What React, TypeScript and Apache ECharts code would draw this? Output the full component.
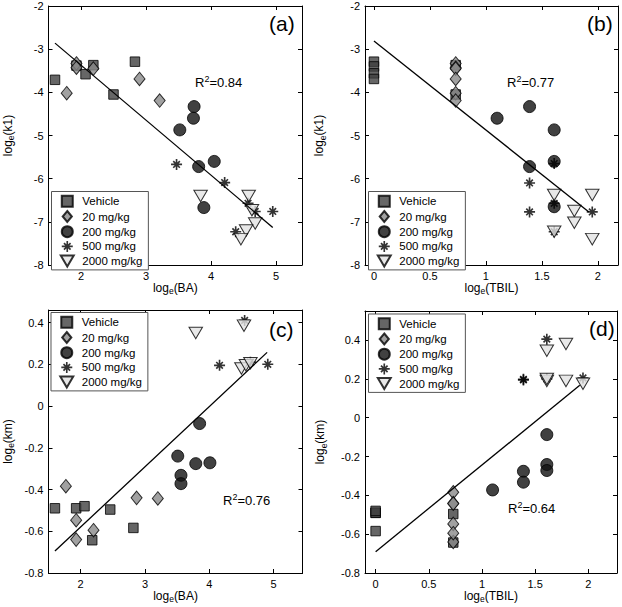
import React, { useEffect, useRef } from 'react';
import * as echarts from 'echarts';

const FONT = '"Liberation Sans", Arial, Helvetica, sans-serif';

const GROUPS = ['Vehicle', '20 mg/kg', '200 mg/kg', '500 mg/kg', '2000 mg/kg'];

// ---- Panel (a): log_e(BA) vs log_e(k1)
const aVehicle = [[1.60, -3.71], [1.93, -3.38], [2.07, -3.58], [2.19, -3.37], [2.50, -4.05], [2.83, -3.29]];
const a20 = [[1.78, -4.02], [1.93, -3.33], [1.93, -3.43], [2.19, -3.45], [2.90, -3.69], [3.21, -4.19]];
const a200 = [[3.52, -4.87], [3.74, -4.33], [3.73, -4.60], [3.81, -5.72], [4.05, -5.60], [3.89, -6.67]];
const a500 = [[3.47, -5.67], [4.21, -6.09], [4.57, -6.57], [4.68, -6.76], [4.95, -6.76], [4.38, -7.23]];
const a2000 = [[3.84, -6.40], [4.58, -6.40], [4.63, -6.73], [4.68, -7.04], [4.54, -7.20], [4.46, -7.40]];
const aFit = [[1.60, -2.86], [4.95, -7.13]];

// ---- Panel (b): log_e(TBIL) vs log_e(k1)
const bVehicle = [[0, -3.29], [0, -3.40], [0, -3.56], [0, -3.69], [0.73, -3.37], [0.73, -4.05]];
const b20 = [[0.73, -3.33], [0.73, -3.43], [0.73, -3.45], [0.73, -3.69], [0.73, -4.02], [0.73, -4.19]];
const b200 = [[1.10, -4.60], [1.39, -4.33], [1.61, -4.87], [1.61, -5.60], [1.39, -5.72], [1.61, -6.65]];
const b500 = [[1.61, -5.65], [1.39, -6.10], [1.39, -6.77], [1.95, -6.77], [1.61, -6.57], [1.61, -7.23]];
const b2000 = [[1.61, -6.38], [1.95, -6.38], [1.79, -6.75], [1.79, -7.02], [1.61, -7.23], [1.95, -7.40]];
const bFit = [[0, -2.81], [1.92, -6.77]];

// ---- Panel (c): log_e(BA) vs log_e(km)
const cVehicle = [[1.60, -0.49], [1.93, -0.49], [2.06, -0.48], [2.18, -0.643], [2.46, -0.496], [2.82, -0.584]];
const c20 = [[1.77, -0.384], [1.93, -0.547], [1.93, -0.64], [2.20, -0.595], [2.87, -0.44], [3.20, -0.443]];
const c200 = [[3.51, -0.24], [3.56, -0.332], [3.56, -0.372], [3.79, -0.276], [4.01, -0.272], [3.85, -0.084]];
const c500 = [[4.16, 0.195], [4.55, 0.41], [4.91, 0.2], [4.64, 0.21]];
const c2000 = [[3.79, 0.35], [4.54, 0.385], [4.50, 0.18], [4.57, 0.195], [4.64, 0.205]];
const cFit = [[1.60, -0.695], [4.90, 0.257]];

// ---- Panel (d): log_e(TBIL) vs log_e(km)
const dVehicle = [[0, -0.49], [0, -0.49], [0, -0.48], [0, -0.584], [0.73, -0.643], [0.73, -0.496]];
const d20 = [[0.73, -0.384], [0.73, -0.547], [0.73, -0.64], [0.73, -0.595], [0.73, -0.44], [0.73, -0.443]];
const d200 = [[1.10, -0.372], [1.39, -0.276], [1.39, -0.332], [1.61, -0.087], [1.61, -0.241], [1.61, -0.272]];
const d500 = [[1.39, 0.195], [1.39, 0.198], [1.61, 0.405], [1.95, 0.205], [1.61, 0.2]];
const d2000 = [[1.61, 0.345], [1.79, 0.38], [1.61, 0.19], [1.79, 0.19], [1.95, 0.175], [1.61, 0.2]];
const dFit = [[0, -0.69], [1.92, 0.167]];

// ---- tick values
const baTicks = [2, 3, 4, 5];
const tbilTicks = [0, 0.5, 1, 1.5, 2];
const k1Ticks = [-8, -7, -6, -5, -4, -3, -2];
const kmTicks = [-0.8, -0.6, -0.4, -0.2, 0, 0.2, 0.4];

const R2 = ['0.84', '0.77', '0.76', '0.64'];
const LABELS = ['(a)', '(b)', '(c)', '(d)'];

const ASTERISK =
  'path://M8.5,0L11.5,0L11.5,20L8.5,20Z M0,8.5L20,8.5L20,11.5L0,11.5Z M14.95,2.93L17.07,5.05L5.05,17.07L2.93,14.95Z M2.93,5.05L5.05,2.93L17.07,14.95L14.95,17.07Z';
const TRI_DOWN = 'path://M0,0L20,0L10,17Z';
const DIAMOND = 'path://M5,0L10,6L5,12L0,6Z';
const SQUARE = 'path://M0,0L10,0L10,10L0,10Z';

const STYLES: any[] = [
  { symbol: SQUARE, symbolSize: 9.5, itemStyle: { color: '#404040', borderColor: '#000', borderWidth: 1 } },
  { symbol: DIAMOND, symbolSize: [11, 13.5], itemStyle: { color: '#8a8a8a', borderColor: '#000', borderWidth: 1 } },
  { symbol: 'circle', symbolSize: 12, itemStyle: { color: '#111', borderColor: '#000', borderWidth: 1 } },
  { symbol: ASTERISK, symbolSize: 11, itemStyle: { color: '#000' } },
  { symbol: TRI_DOWN, symbolSize: [13.5, 11.5], itemStyle: { color: '#e2e2e2', borderColor: '#000', borderWidth: 1 } },
];

const PANELS = [
  {
    grid: { left: 48.5, top: 6, width: 253.5, height: 259 },
    x: [1.5, 5.4], y: [-8, -2], xt: baTicks, yt: k1Ticks, xn: 'BA', yn: 'k1', yGap: 33,
    groups: [aVehicle, a20, a200, a500, a2000], fit: aFit,
    legend: { left: 51.5, top: 191.5 }, r2: [195, 82], lab: [269, 23],
  },
  {
    grid: { left: 365, top: 6, width: 253, height: 259 },
    x: [-0.08, 2.18], y: [-8, -2], xt: tbilTicks, yt: k1Ticks, xn: 'TBIL', yn: 'k1', yGap: 38,
    groups: [bVehicle, b20, b200, b500, b2000], fit: bFit,
    legend: { left: 368.5, top: 191.5 }, r2: [507, 82], lab: [587, 23],
  },
  {
    grid: { left: 48.5, top: 310, width: 254, height: 263 },
    x: [1.5, 5.45], y: [-0.8, 0.46], xt: baTicks, yt: kmTicks, xn: 'BA', yn: 'km', yGap: 33,
    groups: [cVehicle, c20, c200, c500, c2000], fit: cFit,
    legend: { left: 51, top: 312.5 }, r2: [223, 500], lab: [269, 329],
  },
  {
    grid: { left: 365, top: 311, width: 252, height: 262 },
    x: [-0.1, 2.27], y: [-0.8, 0.55], xt: tbilTicks, yt: kmTicks, xn: 'TBIL', yn: 'km', yGap: 37,
    groups: [dVehicle, d20, d200, d500, d2000], fit: dFit,
    legend: { left: 368.5, top: 314 }, r2: [508, 508], lab: [589, 328],
  },
];

const nameRich = {
  n: { fontSize: 12, fontFamily: FONT, color: '#000', lineHeight: 16 },
  s: { fontSize: 8.5, fontFamily: FONT, color: '#000', lineHeight: 8, verticalAlign: 'bottom' },
};

function axisCommon(min: number, max: number, ticks: number[], showLabel: boolean) {
  return {
    type: 'value',
    min,
    max,
    axisLine: { show: true, onZero: false, lineStyle: { color: '#000', width: 1 } },
    axisTick: { show: true, inside: true, length: 4, customValues: ticks, lineStyle: { color: '#000', width: 1 } },
    axisLabel: showLabel
      ? { show: true, customValues: ticks, margin: 5, color: '#000', fontSize: 11, fontFamily: FONT }
      : { show: false },
    splitLine: { show: false },
  };
}

export default function App() {
  const ref = useRef<HTMLDivElement>(null);
  useEffect(() => {
    if (!ref.current) return;
    const chart = echarts.init(ref.current, null, { renderer: 'svg' });
    const grid: any[] = [];
    const xAxis: any[] = [];
    const yAxis: any[] = [];
    const series: any[] = [];
    const legend: any[] = [];
    const graphic: any[] = [];
    PANELS.forEach((p, i) => {
      grid.push({ ...p.grid, containLabel: false });
      xAxis.push({
        ...axisCommon(p.x[0], p.x[1], p.xt, true),
        gridIndex: i,
        position: 'bottom',
        name: `{n|log}{s|e}{n|(${p.xn})}`,
        nameLocation: 'middle',
        nameGap: 13,
        nameTextStyle: { rich: nameRich },
      });
      xAxis.push({ ...axisCommon(p.x[0], p.x[1], p.xt, false), gridIndex: i, position: 'top' });
      yAxis.push({
        ...axisCommon(p.y[0], p.y[1], p.yt, true),
        gridIndex: i,
        position: 'left',
        name: `{n|log}{s|e}{n|(${p.yn})}`,
        nameLocation: 'middle',
        nameRotate: 90,
        nameGap: p.yGap,
        nameTextStyle: { rich: nameRich },
      });
      yAxis.push({ ...axisCommon(p.y[0], p.y[1], p.yt, false), gridIndex: i, position: 'right' });
      p.groups.forEach((d, g) => {
        series.push({
          type: 'scatter',
          name: GROUPS[g],
          xAxisIndex: 2 * i,
          yAxisIndex: 2 * i,
          data: d,
          ...STYLES[g],
          z: 2,
          silent: true,
        });
      });
      series.push({
        type: 'line',
        name: 'fit',
        xAxisIndex: 2 * i,
        yAxisIndex: 2 * i,
        data: p.fit,
        symbol: 'none',
        lineStyle: { color: '#000', width: 1.3 },
        z: 3,
        silent: true,
      });
      legend.push({
        show: true,
        orient: 'vertical',
        left: p.legend.left,
        top: p.legend.top,
        data: GROUPS,
        selectedMode: false,
        itemWidth: 20,
        itemHeight: 11,
        itemGap: 2.2,
        padding: [3.3, 6, 2.3, 8.3],
        borderColor: '#555',
        borderWidth: 1,
        backgroundColor: '#fff',
        textStyle: { fontSize: 11.5, color: '#000', fontFamily: FONT },
      });
      graphic.push({
        type: 'text',
        x: p.r2[0],
        y: p.r2[1],
        style: {
          text: `{r|R}{p|2}{r|=${R2[i]}}`,
          verticalAlign: 'middle',
          rich: {
            r: { fontSize: 13, fontFamily: FONT, fill: '#000', lineHeight: 16 },
            p: { fontSize: 9, fontFamily: FONT, fill: '#000', lineHeight: 8, verticalAlign: 'top' },
          },
        },
      });
      graphic.push({
        type: 'text',
        x: p.lab[0],
        y: p.lab[1],
        style: { text: LABELS[i], fontSize: 21, fontFamily: FONT, fill: '#000', verticalAlign: 'middle' },
      });
    });
    chart.setOption({
      animation: false,
      backgroundColor: '#fff',
      grid,
      xAxis,
      yAxis,
      series,
      legend,
      graphic,
    });
    return () => chart.dispose();
  }, []);
  return <div ref={ref} style={{ position: 'absolute', left: 0, top: 0, width: 622, height: 607 }} />;
}
